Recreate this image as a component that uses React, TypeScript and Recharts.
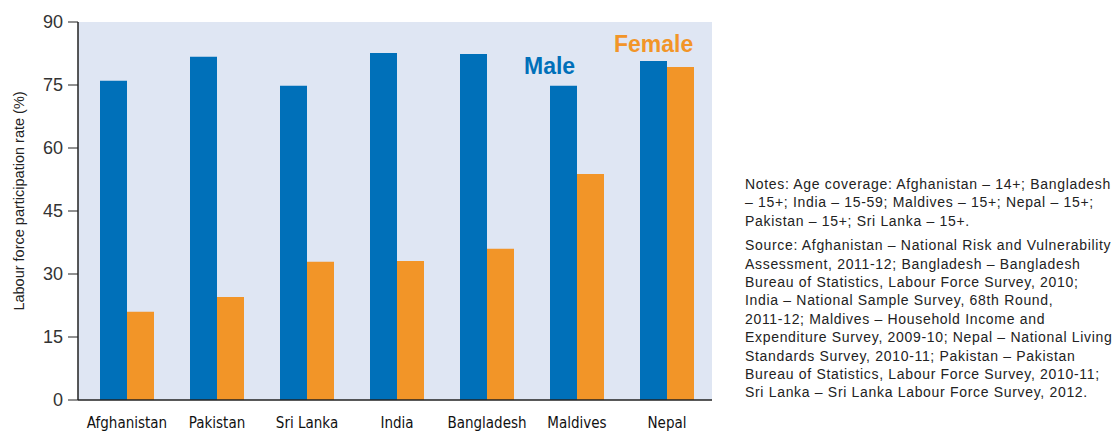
import React from 'react';
import { BarChart, Bar, XAxis, YAxis } from 'recharts';

const countries = ['Afghanistan', 'Pakistan', 'Sri Lanka', 'India', 'Bangladesh', 'Maldives', 'Nepal'];
const maleRates = [76.0, 81.7, 74.8, 82.6, 82.4, 74.8, 80.7];
const femaleRates = [21.0, 24.5, 32.9, 33.1, 36.0, 53.8, 79.3];
const yTicks = [0, 15, 30, 45, 60, 75, 90];

const noteLines = [
  'Notes: Age coverage: Afghanistan – 14+; Bangladesh',
  '– 15+; India – 15-59; Maldives – 15+; Nepal – 15+;',
  'Pakistan – 15+; Sri Lanka – 15+.',
];
const sourceLines = [
  'Source: Afghanistan – National Risk and Vulnerability',
  'Assessment, 2011-12; Bangladesh – Bangladesh',
  'Bureau of Statistics, Labour Force Survey, 2010;',
  'India – National Sample Survey, 68th Round,',
  '2011-12; Maldives – Household Income and',
  'Expenditure Survey, 2009-10; Nepal – National Living',
  'Standards Survey, 2010-11; Pakistan – Pakistan',
  'Bureau of Statistics, Labour Force Survey, 2010-11;',
  'Sri Lanka – Sri Lanka Labour Force Survey, 2012.',
];

const data = countries.map((c, i) => ({ country: c, male: maleRates[i], female: femaleRates[i] }));

const BLUE = '#0070B9';
const ORANGE = '#F29528';
const BG = '#DFE6F3';
const FONT = "'Liberation Sans', Arial, sans-serif";

const YLabel = () => (
  <text
    x={19}
    y={201}
    transform="rotate(-90 19 201)"
    textAnchor="middle"
    dominantBaseline="central"
    fill="#222"
    fontSize={14.5}
    fontFamily={FONT}
  >
    Labour force participation rate (%)
  </text>
);

export default function App() {
  return (
    <div style={{ position: 'absolute', left: 0, top: 0, width: 1117, height: 432, background: '#fff', overflow: 'hidden' }}>
      <div style={{ position: 'absolute', left: 78, top: 22, width: 634, height: 378, background: BG }} />
      <div style={{ position: 'absolute', left: 0, top: 0 }}>
        <BarChart
          width={720}
          height={432}
          data={data}
          margin={{ top: 22, right: 8, bottom: 0, left: 0 }}
          barCategoryGap="20%"
          barGap={0}
        >
          <XAxis
            dataKey="country"
            height={32}
            tickLine={false}
            axisLine={{ stroke: '#222', strokeWidth: 1.5 }}
            padding={{ left: 4, right: 0 }}
            interval={0}
            tick={{ fill: '#111', fontSize: 15, fontFamily: "'Liberation Sans Narrow', 'DejaVu Sans Condensed', sans-serif" }}
            tickMargin={11}
          />
          <YAxis
            width={78}
            domain={[0, 90]}
            ticks={yTicks}
            tickSize={10}
            tickLine={{ stroke: '#222' }}
            axisLine={{ stroke: '#222', strokeWidth: 1.5 }}
            tick={{ fill: '#333', fontSize: 18, fontFamily: FONT }}
            tickMargin={5}
            label={<YLabel />}
          />
          <Bar dataKey="male" fill={BLUE} isAnimationActive={false} />
          <Bar dataKey="female" fill={ORANGE} isAnimationActive={false} />
        </BarChart>
      </div>
      <div style={{ position: 'absolute', left: 524, top: 53, fontFamily: FONT, fontWeight: 'bold', fontSize: 23, color: BLUE, lineHeight: '26px' }}>Male</div>
      <div style={{ position: 'absolute', left: 614, top: 31, fontFamily: FONT, fontWeight: 'bold', fontSize: 23, color: ORANGE, lineHeight: '26px' }}>Female</div>
      <div style={{ position: 'absolute', left: 745, top: 175, fontFamily: FONT, fontSize: 14, letterSpacing: '0.68px', color: '#222', lineHeight: '18.4px', whiteSpace: 'nowrap' }}>
        {noteLines.map((l, i) => (<div key={'n' + i}>{l}</div>))}
        <div style={{ height: 6 }} />
        {sourceLines.map((l, i) => (<div key={'s' + i}>{l}</div>))}
      </div>
    </div>
  );
}
